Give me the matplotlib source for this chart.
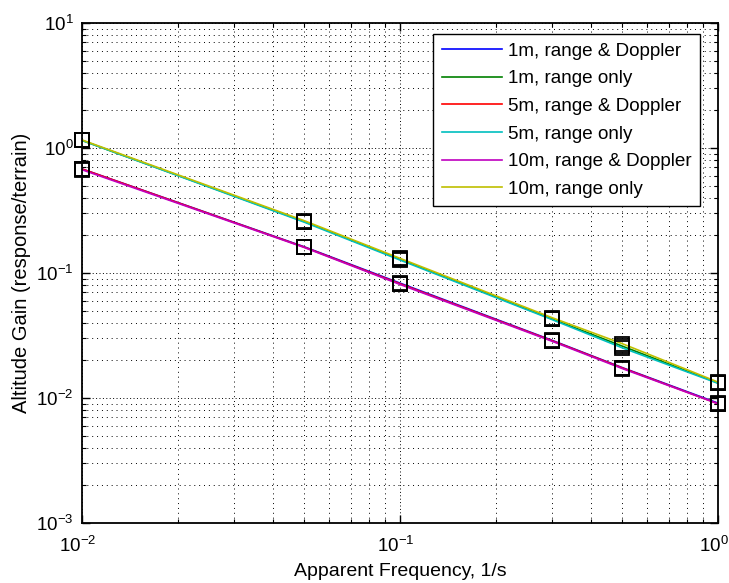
#!/usr/bin/env python3

"""
Altitude gain vs apparent frequency, MATLAB style log-log plot
"""

import numpy as np
import matplotlib
matplotlib.use('Agg')
import matplotlib.pyplot as plt
import matplotlib.transforms as mtransforms
from matplotlib.ticker import LogLocator, NullFormatter

plt.rcParams['font.family'] = ['Liberation Sans', 'DejaVu Sans']
plt.rcParams['mathtext.fontset'] = 'custom'
plt.rcParams['mathtext.rm'] = 'Liberation Sans'
plt.rcParams['mathtext.it'] = 'Liberation Sans'

# frequencies where the squares sit (1/s)
freq = [0.01, 0.05, 0.1, 0.3, 0.5, 1.0]

# altitude gain for each case
gain_1m_rd  = [0.68, 0.162, 0.083, 0.0290, 0.0175, 0.0091]
gain_1m_r   = [1.15, 0.258, 0.129, 0.0430, 0.0260, 0.0132]
gain_5m_rd  = [0.68, 0.161, 0.082, 0.0288, 0.0174, 0.0090]
gain_5m_r   = [1.15, 0.255, 0.127, 0.0425, 0.0252, 0.0131]
gain_10m_rd = [0.67, 0.160, 0.081, 0.0285, 0.0172, 0.0090]
gain_10m_r  = [1.16, 0.262, 0.131, 0.0440, 0.0272, 0.0134]

labels = ['1m, range & Doppler', '1m, range only',
          '5m, range & Doppler', '5m, range only',
          '10m, range & Doppler', '10m, range only']

series = [gain_1m_rd, gain_1m_r, gain_5m_rd, gain_5m_r, gain_10m_rd, gain_10m_r]
# classic MATLAB colour order b g r c m y
colors = [(0, 0, 1), (0, 0.5, 0), (1, 0, 0), (0, 0.75, 0.75), (0.75, 0, 0.75), (0.75, 0.75, 0)]

fig = plt.figure(figsize=(7.29, 5.83), dpi=100)
ax = fig.add_axes([82/729, 1 - 523/583, 636/729, 500/583])

# curves
for g, c, lab in zip(series, colors, labels):
    ax.loglog(freq, g, color=c, lw=1.2, label=lab)
# black square markers on top
for g in series:
    ax.loglog(freq, g, ls='none', marker='s', ms=10, mfc='none', mec='k', mew=1.3, clip_on=False, zorder=5)

ax.set_xlim(1e-2, 1e0)
ax.set_ylim(1e-3, 1e1)

# ticks and grid the MATLAB way
ax.xaxis.set_major_locator(LogLocator(base=10, numticks=10))
ax.yaxis.set_major_locator(LogLocator(base=10, numticks=10))
ax.xaxis.set_minor_locator(LogLocator(base=10, subs=np.arange(2, 10), numticks=20))
ax.yaxis.set_minor_locator(LogLocator(base=10, subs=np.arange(2, 10), numticks=20))
ax.xaxis.set_minor_formatter(NullFormatter())
ax.yaxis.set_minor_formatter(NullFormatter())
ax.tick_params(which='both', direction='in', top=True, right=True, labelsize=13.5)
ax.tick_params(which='major', length=6, width=1)
ax.tick_params(which='minor', length=3, width=0.8)
ax.tick_params(axis='x', pad=9)
ax.tick_params(axis='y', pad=6)
ax.grid(True, which='major', ls=(0, (1, 2.5)), color='k', lw=0.7)
ax.grid(True, which='minor', ls=(0, (1, 4)), color='k', lw=0.7)
for s in ax.spines.values():
    s.set_linewidth(1.3)

# MATLAB puts the x tick labels a touch left of the tick
shift = mtransforms.ScaledTranslation(-4/100, 0, fig.dpi_scale_trans)
for lbl in ax.get_xticklabels():
    lbl.set_transform(lbl.get_transform() + shift)

ax.set_xlabel('Apparent Frequency, 1/s', fontsize=14, labelpad=5)
ax.set_ylabel('Altitude Gain (response/terrain)', fontsize=14.5, labelpad=4)

leg = ax.legend(loc='upper right', bbox_to_anchor=(618/636, 489/500), borderaxespad=0,
                fontsize=13.6, handlelength=3.2, handletextpad=0.3, labelspacing=0.55,
                fancybox=False, framealpha=1, edgecolor='k', borderpad=0.45)
leg.get_frame().set_linewidth(1.0)

fig.savefig('out.png', dpi=100)
